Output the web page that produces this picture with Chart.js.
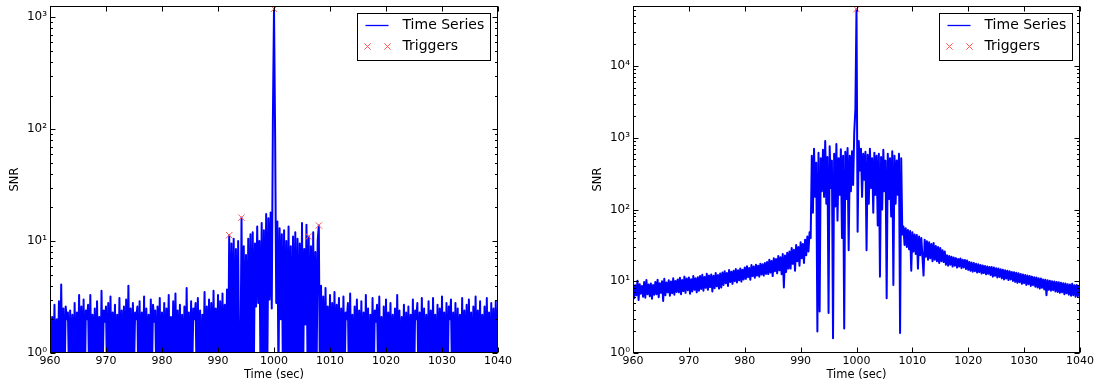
<!DOCTYPE html>
<html>
<head>
<meta charset="utf-8">
<script src="https://cdn.jsdelivr.net/npm/chart.js@4.4.1/dist/chart.umd.min.js"></script>
<style>
  body { margin: 0; background: #fff; }
  #wrap { position: relative; width: 1096px; height: 383px; }
  canvas { position: absolute; top: 0; }
</style>
</head>
<body>
<div id="wrap">
  <canvas id="leftChart" width="548" height="383" style="left:0"></canvas>
  <canvas id="rightChart" width="548" height="383" style="left:548px"></canvas>
</div>
<script>
// sampling of both time series (sec)
const sampleStart = 960;
const sampleStep = 0.2;

const xTicks = [960, 970, 980, 990, 1000, 1010, 1020, 1030, 1040];
const leftDecades = [1, 10, 100, 1000];
const rightDecades = [1, 10, 100, 1000, 10000];
const legendLabels = ["Time Series", "Triggers"];

// left panel SNR, one row = 4 sec
const leftSnr = [
  2.4, 0.5, 2.1, 0.7, 2.7, 0.4, 2.0, 0.8, 2.9, 0.5, 4.1, 0.6, 2.5, 0.5, 2.6, 2.0, 2.3, 0.6, 2.4, 0.7,
  2.2, 0.5, 2.8, 0.4, 2.3, 0.8, 3.3, 0.5, 2.6, 0.6, 3.0, 0.4, 2.4, 2.0, 2.7, 0.5, 3.3, 0.6, 2.2, 0.7,
  2.5, 0.4, 2.9, 0.6, 2.1, 0.5, 3.6, 0.7, 2.4, 1.9, 2.6, 0.5, 2.8, 0.4, 3.2, 0.6, 2.3, 0.8, 2.7, 0.5,
  2.2, 0.6, 3.1, 0.5, 2.4, 0.7, 2.6, 0.4, 3.0, 0.5, 4.0, 0.6, 2.5, 0.5, 2.8, 0.7, 2.3, 2.0, 2.6, 0.4,
  2.9, 0.5, 2.3, 0.6, 3.2, 0.4, 2.5, 0.8, 2.2, 0.5, 3.0, 0.6, 2.7, 1.9, 2.4, 0.5, 2.6, 0.7, 3.1, 0.4,
  2.3, 0.6, 2.8, 0.5, 2.5, 0.7, 3.3, 0.4, 2.1, 0.6, 2.9, 0.5, 3.4, 0.8, 2.4, 0.5, 2.7, 0.6, 2.2, 0.4,
  2.6, 0.5, 3.8, 0.6, 2.3, 0.4, 2.9, 0.7, 2.5, 2.0, 2.8, 0.5, 3.1, 0.6, 2.4, 0.5, 2.2, 0.8, 3.5, 0.4,
  2.6, 0.6, 3.0, 0.5, 2.8, 0.4, 3.6, 0.7, 2.5, 0.5, 3.3, 0.6, 2.9, 0.4, 3.4, 0.5, 2.7, 0.6, 3.7, 0.5,
  11.3, 0.5, 9.5, 0.7, 10.5, 0.4, 8.5, 0.6, 10.0, 0.5, 0.6, 16.2, 0.4, 9.0, 0.8, 7.5, 0.5, 10.5, 0.6, 11.5,
  0.5, 12.0, 0.7, 9.5, 2.6, 13.5, 2.8, 10.0, 0.6, 14.5, 0.5, 12.5, 0.8, 17.5, 0.6, 16.0, 3.0, 18.0, 2.5, 120,
  1190, 90, 2.8, 15.0, 0.6, 13.0, 2.0, 11.5, 0.5, 12.5, 0.7, 10.0, 0.5, 13.5, 0.6, 9.0, 0.4, 11.0, 0.8, 12.0,
  0.5, 10.5, 0.6, 9.5, 0.7, 14.5, 0.5, 8.5, 1.8, 14.0, 0.6, 11.0, 0.5, 9.0, 0.7, 12.0, 0.5, 8.0, 0.6, 10.0,
  13.8, 0.5, 4.0, 0.6, 3.2, 0.4, 3.8, 0.7, 2.6, 0.5, 3.3, 0.6, 2.8, 0.5, 3.5, 0.4, 2.7, 0.8, 3.1, 0.5,
  2.5, 0.6, 3.2, 0.5, 2.3, 2.0, 2.8, 0.4, 3.4, 0.6, 2.2, 0.5, 2.6, 0.7, 3.0, 0.5, 2.4, 0.6, 2.9, 0.4,
  2.3, 0.5, 3.3, 0.6, 2.5, 0.4, 2.2, 0.7, 3.1, 0.5, 2.4, 1.9, 2.7, 0.6, 3.2, 0.5, 2.1, 0.6, 2.6, 0.4,
  3.0, 0.5, 2.3, 0.7, 2.8, 0.4, 2.2, 0.6, 2.5, 0.5, 3.3, 0.6, 2.4, 0.5, 2.1, 0.8, 2.7, 0.4, 2.3, 0.6,
  2.6, 0.5, 2.2, 0.6, 3.0, 0.4, 2.4, 2.0, 2.8, 0.5, 2.3, 0.7, 3.1, 0.5, 2.5, 0.6, 2.2, 0.4, 2.9, 0.6,
  2.4, 0.5, 3.1, 0.6, 2.2, 0.4, 2.7, 0.7, 2.5, 0.5, 3.2, 0.6, 2.3, 0.5, 2.8, 0.4, 2.6, 2.0, 3.0, 0.5,
  2.3, 0.6, 2.8, 0.4, 2.5, 0.7, 2.2, 0.5, 3.1, 0.6, 2.4, 0.5, 2.7, 0.4, 3.0, 0.6, 2.3, 0.5, 2.6, 0.7,
  3.2, 0.5, 2.4, 0.6, 2.9, 0.4, 2.2, 0.7, 2.6, 0.5, 3.1, 0.6, 2.3, 0.4, 2.8, 0.6, 2.5, 0.5, 2.9, 0.6, 2.7
];
const leftTrigTimes = [992.0, 994.2, 1000.0, 1006.2, 1008.0];
const leftTrigSnr = [11.3, 16.2, 1190, 11.0, 13.8];

// right panel SNR, one row = 4 sec
const rightSnr = [
  9.6, 5.8, 8.8, 6.4, 10.2, 5.5, 9.1, 6.7, 8.6, 6.1, 9.8, 5.9, 10.4, 6.6, 9.0, 6.2, 9.3, 5.7, 8.9, 6.5,
  9.8, 6.6, 10.5, 6.0, 9.4, 6.9, 10.0, 5.3, 10.8, 6.4, 9.6, 7.0, 10.3, 6.3, 9.9, 6.8, 11.0, 6.5, 10.1, 7.1,
  10.6, 7.0, 11.2, 6.6, 10.4, 7.3, 11.6, 6.9, 10.9, 7.5, 11.3, 6.7, 10.7, 7.2, 11.8, 7.6, 11.0, 7.0, 11.4, 7.4,
  11.8, 7.8, 12.3, 7.4, 11.5, 8.1, 12.7, 7.6, 12.0, 8.3, 12.4, 7.2, 11.9, 8.0, 13.0, 8.5, 12.2, 7.9, 12.8, 8.2,
  13.2, 8.9, 13.8, 9.4, 13.0, 8.6, 14.3, 9.8, 13.6, 9.2, 14.0, 10.0, 14.8, 9.6, 14.2, 10.3, 15.0, 9.9, 14.5, 10.6,
  15.6, 10.8, 16.2, 11.4, 15.3, 10.5, 16.8, 11.8, 16.0, 11.2, 17.0, 12.0, 16.5, 11.6, 17.6, 12.4, 17.2, 12.0, 18.0, 12.7,
  18.5, 12.6, 20.0, 13.2, 19.2, 11.8, 21.0, 13.8, 20.4, 12.9, 22.5, 14.2, 21.6, 12.5, 24.0, 8.2, 22.8, 13.5, 25.0, 15.0,
  26.0, 15.0, 29.0, 17.5, 27.5, 14.0, 32.0, 19.0, 30.0, 16.5, 35.0, 21.0, 33.0, 18.0, 38.0, 23.0, 42.0, 26.0, 48.0, 40.0,
  560, 90, 700, 150, 450, 2.0, 620, 3.8, 520, 180, 680, 150, 900, 120, 540, 3.6, 760, 200, 480, 1.6,
  600, 110, 820, 70, 520, 160, 690, 40, 560, 2.2, 640, 140, 720, 27, 560, 180, 650, 220, 1200, 2500,
  62000, 49, 900, 350, 700, 150, 600, 260, 640, 27, 580, 120, 700, 200, 520, 90, 620, 160, 560, 60,
  600, 11.6, 540, 100, 680, 180, 480, 5.8, 600, 140, 520, 80, 650, 8.9, 560, 120, 480, 160, 600, 1.9,
  520, 45, 58, 32, 55, 30, 52, 28, 50, 14, 48, 26, 45, 24, 44, 15, 42, 23, 40, 22,
  12, 38, 22, 36, 20, 35, 21, 33, 19, 34, 20, 31, 19, 30, 18, 29, 19, 27, 18.5, 26,
  17, 23, 16.5, 22.5, 17, 22, 16, 21.5, 16.5, 21, 15.5, 20.5, 16, 20.8, 15.2, 20, 15.6, 19.8, 14.8, 19.5,
  14.4, 18.6, 14.0, 18.2, 13.6, 17.9, 13.8, 17.5, 13.2, 17.2, 13.4, 16.9, 12.8, 16.6, 13.0, 16.3, 12.5, 16.1, 12.7, 15.8,
  12.2, 15.8, 11.6, 15.5, 11.9, 15.2, 11.3, 15.0, 11.5, 14.7, 11.0, 14.5, 10.6, 14.2, 10.9, 14.0, 10.4, 13.8, 10.6, 13.5,
  10.1, 13.4, 9.8, 13.1, 9.5, 12.9, 9.7, 12.6, 9.2, 12.4, 9.4, 12.2, 8.9, 12.0, 9.1, 11.8, 8.6, 11.6, 8.8, 11.4,
  8.4, 11.3, 8.2, 11.0, 7.9, 10.9, 8.1, 10.6, 7.7, 10.5, 6.4, 10.3, 7.6, 10.2, 7.4, 10.0, 7.5, 9.9, 7.2, 9.8,
  7.1, 9.7, 6.9, 9.5, 7.0, 9.4, 6.6, 9.3, 6.8, 9.1, 6.5, 9.0, 6.3, 9.2, 6.4, 8.8, 6.1, 8.9, 6.2, 8.6, 6.0
];
const rightTrigTimes = [1000.0];
const rightTrigSnr = [62000];

const FONT = "'DejaVu Sans', sans-serif";
const sup = ["\u2070", "\u00B9", "\u00B2", "\u00B3", "\u2074"];

// inward ticks, full frame and in-axes legend, matplotlib style
const axesDecor = {
  id: "axesDecor",
  afterDraw(chart, args, opts) {
    const { ctx, chartArea: a, scales: { x, y } } = chart;
    const L = Math.round(a.left) + 0.5, R = Math.round(a.right) - 0.5;
    const T = Math.round(a.top) + 0.5, B = Math.round(a.bottom) - 0.5;
    ctx.save();
    ctx.strokeStyle = "#000";
    ctx.lineWidth = 1;
    ctx.beginPath();
    xTicks.forEach(t => {
      const px = Math.round(x.getPixelForValue(t)) + 0.5;
      ctx.moveTo(px, B); ctx.lineTo(px, B - 5);
      ctx.moveTo(px, T); ctx.lineTo(px, T + 5);
    });
    opts.decades.forEach(d => {
      for (let m = 1; m < 10; m++) {
        const v = d * m;
        if (v < y.min || v > y.max) continue;
        const py = Math.round(y.getPixelForValue(v)) + 0.5;
        const len = m === 1 ? 5 : 2.5;
        ctx.moveTo(L, py); ctx.lineTo(L + len, py);
        ctx.moveTo(R, py); ctx.lineTo(R - len, py);
      }
    });
    ctx.stroke();
    ctx.strokeRect(L, T, R - L, B - T);

    // legend
    const bw = 133, bh = 47;
    const bx = Math.round(a.right - 8 - bw) + 0.5, by = Math.round(a.top + 7) + 0.5;
    ctx.fillStyle = "#fff";
    ctx.fillRect(bx, by, bw, bh);
    ctx.strokeStyle = "#000";
    ctx.strokeRect(bx, by, bw, bh);
    ctx.strokeStyle = "#0000ff";
    ctx.lineWidth = 1.3;
    ctx.beginPath();
    ctx.moveTo(bx + 8, by + 12); ctx.lineTo(bx + 31, by + 12);
    ctx.stroke();
    ctx.strokeStyle = "#ff5a5a";
    ctx.lineWidth = 1;
    ctx.beginPath();
    [bx + 10, bx + 30].forEach(mx => {
      const my = by + 33, r = 3.2;
      ctx.moveTo(mx - r, my - r); ctx.lineTo(mx + r, my + r);
      ctx.moveTo(mx - r, my + r); ctx.lineTo(mx + r, my - r);
    });
    ctx.stroke();
    ctx.fillStyle = "#000";
    ctx.font = "14px " + FONT;
    ctx.textBaseline = "middle";
    ctx.textAlign = "left";
    ctx.fillText(legendLabels[0], bx + 45, by + 12);
    ctx.fillText(legendLabels[1], bx + 45, by + 33);
    ctx.restore();
  }
};

function makeChart(id, snr, trigTimes, trigSnr, yMax, decades, padLeft, padRight) {
  const series = snr.map((v, i) => ({ x: sampleStart + i * sampleStep, y: v }));
  const trig = trigTimes.map((t, i) => ({ x: t, y: trigSnr[i] }));
  return new Chart(document.getElementById(id), {
    type: "line",
    data: {
      datasets: [
        {
          label: legendLabels[1],
          data: trig,
          showLine: false,
          pointStyle: "crossRot",
          pointRadius: 4.5,
          pointBorderColor: "#ff5a5a",
          pointBorderWidth: 1,
          order: 0
        },
        {
          label: legendLabels[0],
          data: series,
          borderColor: "#0000ff",
          borderWidth: 2,
          borderJoinStyle: "round",
          pointRadius: 0,
          tension: 0,
          fill: false,
          order: 1
        }
      ]
    },
    options: {
      responsive: false,
      animation: false,
      devicePixelRatio: 1,
      events: [],
      layout: { padding: { left: padLeft, right: padRight, top: 6, bottom: 0 } },
      plugins: {
        legend: { display: false },
        tooltip: { enabled: false },
        axesDecor: { decades: decades }
      },
      scales: {
        x: {
          type: "linear",
          min: 960,
          max: 1040,
          afterBuildTicks: s => { s.ticks = xTicks.map(v => ({ value: v })); },
          afterFit: s => { s.height = 30; s.paddingLeft = 0; s.paddingRight = 0; },
          grid: { display: false, drawTicks: false },
          border: { display: false },
          ticks: {
            color: "#000",
            font: { family: FONT, size: 11 },
            padding: 2,
            maxRotation: 0,
            autoSkip: false,
            callback: v => String(v)
          },
          title: {
            display: true,
            text: "Time (sec)",
            color: "#000",
            font: { family: FONT, size: 11.5 },
            padding: { top: 0, bottom: 1 }
          }
        },
        y: {
          type: "logarithmic",
          min: 1,
          max: yMax,
          afterBuildTicks: s => { s.ticks = decades.map(v => ({ value: v })); },
          afterFit: s => { s.width = 46; s.paddingTop = 0; s.paddingBottom = 0; },
          grid: { display: false, drawTicks: false },
          border: { display: false },
          ticks: {
            color: "#000",
            font: { family: FONT, size: 12 },
            padding: 3,
            autoSkip: false,
            callback: v => "10" + sup[Math.round(Math.log10(v))]
          },
          title: {
            display: true,
            text: "SNR",
            color: "#000",
            font: { family: FONT, size: 11.5 },
            padding: { top: 4, bottom: 0 }
          }
        }
      }
    },
    plugins: [axesDecor]
  });
}

makeChart("leftChart", leftSnr, leftTrigTimes, leftTrigSnr, 1262, leftDecades, 4, 50);
makeChart("rightChart", rightSnr, rightTrigTimes, rightTrigSnr, 68600, rightDecades, 39, 16);
</script>
</body>
</html>
